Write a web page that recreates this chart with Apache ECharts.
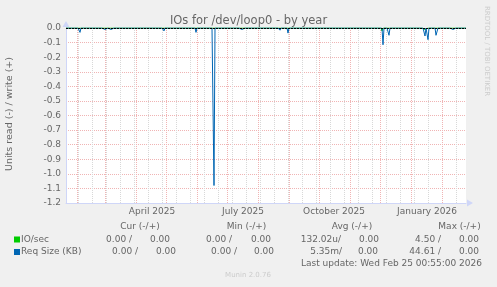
<!DOCTYPE html>
<html><head><meta charset="utf-8">
<script src="https://cdn.jsdelivr.net/npm/echarts@6/dist/echarts.min.js"></script>
<style>html,body{margin:0;padding:0;background:#f0f0f0}#c{width:497px;height:287px}</style>
</head><body><div id="c"></div>
<script>
// ---- data ----
const titleText = 'IOs for /dev/loop0 - by year';
const yAxisTitle = 'Units read (-) / write (+)';
const watermark = 'RRDTOOL / TOBI OETIKER';
const footer = 'Munin 2.0.76';
const lastUpdate = 'Last update: Wed Feb 25 00:55:00 2026';
// day 0 = 21 Jan 2025, 400 days shown
const totalDays = 400;
const monthStartDays = [11, 39, 70, 100, 131, 161, 192, 223, 253, 284, 314, 345, 376];
const minorGridDays = [12, 26, 40, 54, 68, 82, 96, 110, 124, 138, 152, 166, 180, 194, 208, 222, 236, 250, 264, 278, 292, 306, 320, 334, 348, 362, 376, 390];
const monthLabelDays = [86, 177, 268, 361];
const monthLabels = ['April 2025', 'July 2025', 'October 2025', 'January 2026'];
const reqSizeDays = [11, 14, 19, 39, 45, 82, 98, 122, 130, 148, 169, 176, 211, 214, 216, 222, 252, 311, 317, 323, 352, 359, 362, 370, 371, 387];
const reqSizeRead = [-0.01, -0.03, -0.01, -0.01, -0.01, -0.01, -0.02, -0.01, -0.03, -1.08, -0.01, -0.01, -0.01, -0.015, -0.01, -0.035, -0.01, -0.01, -0.115, -0.05, -0.01, -0.055, -0.08, -0.05, -0.045, -0.01];
const ioDays = [316, 359];
const ioRead = [-0.02, -0.01];
const legendNames = ['IO/sec', 'Req Size (KB)'];
const legendColors = ['#00cc00', '#0066b3'];
const colHeaders = ['Cur (-/+)', 'Min (-/+)', 'Avg (-/+)', 'Max (-/+)'];
const curVals = [['0.00 /', '0.00'], ['0.00 /', '0.00']];
const minVals = [['0.00 /', '0.00'], ['0.00 /', '0.00']];
const avgVals = [['132.02u/', '0.00'], ['5.35m/', '0.00']];
const maxVals = [['4.50 /', '0.00'], ['44.61 /', '0.00']];

// ---- build ----
function daily(days, vals) {
  const out = [];
  for (let d = 0; d <= totalDays; d++) {
    const i = days.indexOf(d);
    out.push([d, i >= 0 ? vals[i] : 0]);
  }
  return out;
}
const FONT = 'DejaVu Sans';
const TXT = '#666666';
const chart = echarts.init(document.getElementById('c'), null, {renderer: 'canvas'});

const g = [];
function txt(x, y, s, opts) {
  g.push(Object.assign({type: 'text', x: x, y: y, silent: true,
    style: Object.assign({text: s, fill: TXT, font: '9px "' + FONT + '"', textAlign: 'left', textVerticalAlign: 'middle'}, opts || {})}));
}
g.push({type: 'text', x: 248.5, y: 21, silent: true, style: {text: titleText, fill: TXT, font: '11.5px "' + FONT + '"', textAlign: 'center', textVerticalAlign: 'middle'}});
g.push({type: 'text', x: 10, y: 114, rotation: Math.PI / 2, silent: true, style: {text: yAxisTitle, fill: TXT, font: '9.5px "' + FONT + '"', textAlign: 'center', textVerticalAlign: 'middle'}});
g.push({type: 'text', x: 487, y: 51, rotation: -Math.PI / 2, silent: true, style: {text: watermark, fill: '#cccccc', font: '7px "' + FONT + '"', textAlign: 'center', textVerticalAlign: 'middle'}});
const headerX = [140, 246.5, 352, 459.5];
colHeaders.forEach((h, i) => txt(headerX[i], 227, h, {textAlign: 'center'}));
const rowY = [239.5, 252];
const colEnds = [[[132, 170], [232, 271], [341, 379], [441, 479]], [[138, 176], [237, 274], [342, 378], [441, 479]]];
const allVals = [curVals, minVals, avgVals, maxVals];
legendNames.forEach((n, r) => {
  g.push({type: 'rect', silent: true, shape: {x: 14, y: rowY[r] - 3, width: 6, height: 6}, style: {fill: legendColors[r]}});
  txt(21, rowY[r], n);
  allVals.forEach((col, c) => {
    txt(colEnds[r][c][0], rowY[r], col[r][0], {textAlign: 'right'});
    txt(colEnds[r][c][1], rowY[r], col[r][1], {textAlign: 'right'});
  });
});
txt(482, 263.5, lastUpdate, {textAlign: 'right'});
txt(248, 275, footer, {textAlign: 'center', fill: '#cccccc', font: '7px "' + FONT + '"'});

const redGrid = {color: '#f0b4b4', width: 1, type: [1, 1]};
chart.setOption({
  animation: false,
  backgroundColor: '#f0f0f0',
  grid: {left: 66, top: 28, width: 400, height: 175, show: true, backgroundColor: '#ffffff', borderWidth: 0},
  xAxis: [
    {type: 'value', min: 0, max: totalDays, position: 'top', axisLine: {show: false}, axisLabel: {show: false},
     axisTick: {show: false, customValues: minorGridDays},
     splitLine: {show: true, lineStyle: {color: '#d8d8d8', width: 1, type: [1, 1]}}},
    {type: 'value', min: 0, max: totalDays, position: 'bottom',
     axisLine: {show: true, onZero: false, lineStyle: {color: '#cfd6f8', width: 1}, symbol: ['none', 'triangle'], symbolSize: [7, 6], symbolOffset: [0, 4]},
     axisTick: {show: false, customValues: monthStartDays},
     axisLabel: {show: true, customValues: monthLabelDays, margin: 4, color: TXT, fontFamily: FONT, fontSize: 9,
       formatter: v => monthLabels[monthLabelDays.indexOf(Math.round(v))] || ''},
     splitLine: {show: true, lineStyle: redGrid}}
  ],
  yAxis: {type: 'value', min: -1.2, max: 0, interval: 0.1,
    axisLine: {show: true, onZero: false, lineStyle: {color: '#cfd6f8', width: 1}, symbol: ['none', 'triangle'], symbolSize: [7, 6], symbolOffset: [0, 4]},
    axisTick: {show: false},
    axisLabel: {margin: 5, color: TXT, fontFamily: FONT, fontSize: 9, formatter: v => (Math.abs(v) < 1e-9 ? 0 : v).toFixed(1)},
    splitLine: {show: true, lineStyle: redGrid}},
  series: [
    {name: legendNames[0], type: 'line', xAxisIndex: 1, data: daily(ioDays, ioRead), showSymbol: false, symbol: 'none', sampling: 'none',
     lineStyle: {color: legendColors[0], width: 1}, itemStyle: {color: legendColors[0]}, z: 3},
    {name: legendNames[1], type: 'line', xAxisIndex: 1, data: daily(reqSizeDays, reqSizeRead), showSymbol: false, symbol: 'none', sampling: 'none',
     lineStyle: {color: legendColors[1], width: 1}, itemStyle: {color: legendColors[1]}, z: 4,
     markLine: {silent: true, symbol: 'none', label: {show: false}, lineStyle: {color: '#000000', width: 1, type: [2, 1]}, data: [{yAxis: 0}]}}
  ],
  graphic: g
});
</script></body></html>
